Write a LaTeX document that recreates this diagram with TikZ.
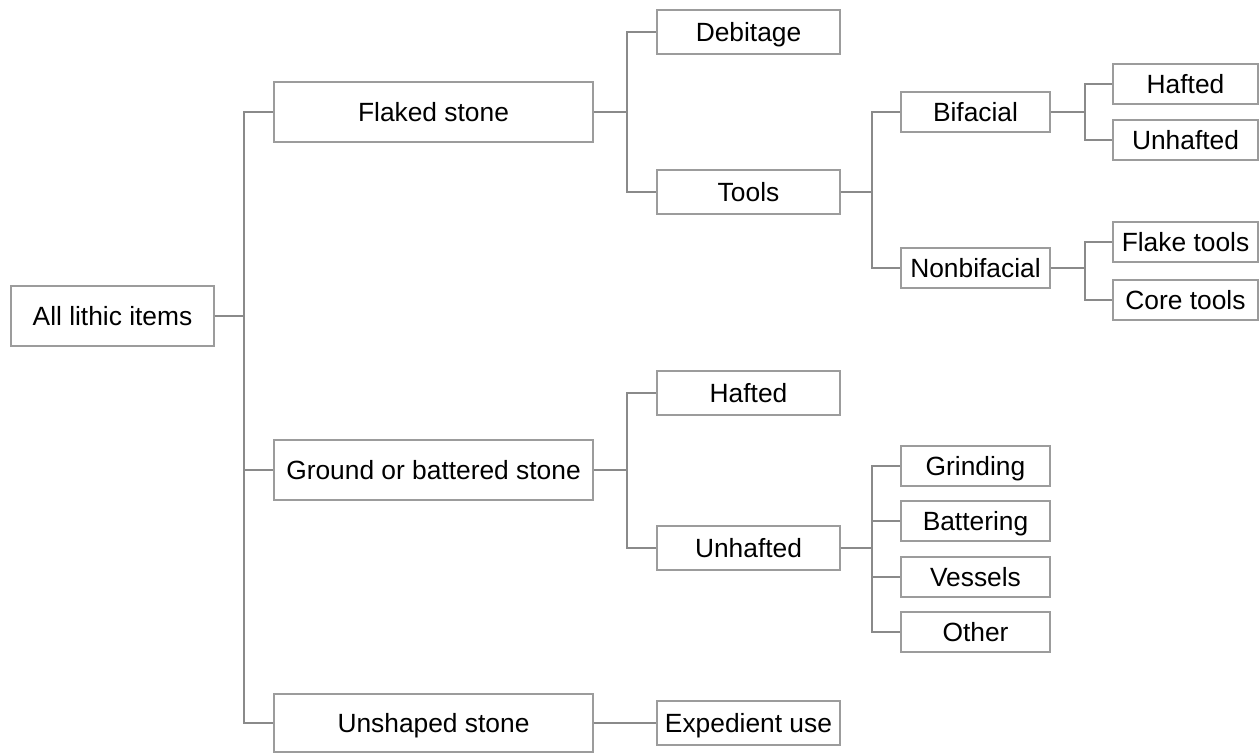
\documentclass[tikz,border=0pt]{standalone}
\usepackage{fontspec}
\setmainfont{Liberation Sans}
\usepackage{tikz}

\definecolor{boxgray}{HTML}{9C9C9C}
\definecolor{linegray}{HTML}{8A8A8A}

\begin{document}
\begin{tikzpicture}[x=0.02cm, y=-0.02cm,
    box/.style={draw=boxgray, line width=0.04cm, fill=white, inner sep=0pt,
                text height=12.5pt, text depth=1.8pt,
                font=\fontsize{15}{18}\selectfont},
    lvlzero/.style={box, minimum width=4.06cm, minimum height=1.2cm},
    lvlone/.style={box, minimum width=6.38cm, minimum height=1.2cm},
    lvltwo/.style={box, minimum width=3.66cm, minimum height=0.88cm},
    lvlthree/.style={box, minimum width=2.98cm, minimum height=0.81cm},
    lvlfour/.style={box, minimum width=2.9cm, minimum height=0.8cm},
    link/.style={draw=linegray, line width=0.022cm}]
            \useasboundingbox (0,0) rectangle (1259,754);

            % root and first split
            \node[lvlzero] (all) at (112.5,316) {All lithic items};
            \node[lvlone] (flaked) at (433.5,112) {Flaked stone};
            \node[lvlone] (ground) at (433.5,470) {Ground or battered stone};
            \node[lvlone, minimum height=1.16cm] (unshaped) at (433.5,723) {Unshaped stone};

            % second level
            \node[lvltwo] (debitage) at (748.5,32) {Debitage};
            \node[lvltwo] (tools) at (748.5,192) {Tools};
            \node[lvltwo] (haftedg) at (748.5,393) {Hafted};
            \node[lvltwo] (unhaftedg) at (748.5,548) {Unhafted};
            \node[lvltwo] (expedient) at (748.5,723) {Expedient use};

            % third level
            \node[lvlthree] (bifacial) at (975.5,112) {Bifacial};
            \node[lvlthree] (nonbifacial) at (975.5,268) {Nonbifacial};
            \node[lvlthree] (grinding) at (975.5,466) {Grinding};
            \node[lvlthree] (battering) at (975.5,521) {Battering};
            \node[lvlthree] (vessels) at (975.5,577) {Vessels};
            \node[lvlthree] (other) at (975.5,632) {Other};

            % fourth level
            \node[lvlfour] (haftedb) at (1185.5,84) {Hafted};
            \node[lvlfour] (unhaftedb) at (1185.5,140) {Unhafted};
            \node[lvlfour] (flake) at (1185.5,242) {Flake tools};
            \node[lvlfour] (core) at (1185.5,300) {Core tools};

            \foreach \child in {flaked, ground, unshaped}
                \draw[link] (all.east) -- ++(29,0) |- (\child.west);

            \foreach \child in {debitage, tools}
                \draw[link] (flaked.east) -- ++(33,0) |- (\child.west);
            \foreach \child in {haftedg, unhaftedg}
                \draw[link] (ground.east) -- ++(33,0) |- (\child.west);
            \draw[link] (unshaped.east) -- (expedient.west);

            \foreach \child in {bifacial, nonbifacial}
                \draw[link] (tools.east) -- ++(31,0) |- (\child.west);
            \foreach \child in {grinding, battering, vessels, other}
                \draw[link] (unhaftedg.east) -- ++(31,0) |- (\child.west);

            \foreach \child in {haftedb, unhaftedb}
                \draw[link] (bifacial.east) -- ++(34,0) |- (\child.west);
            \foreach \child in {flake, core}
                \draw[link] (nonbifacial.east) -- ++(34,0) |- (\child.west);
        \end{tikzpicture}
\end{document}
